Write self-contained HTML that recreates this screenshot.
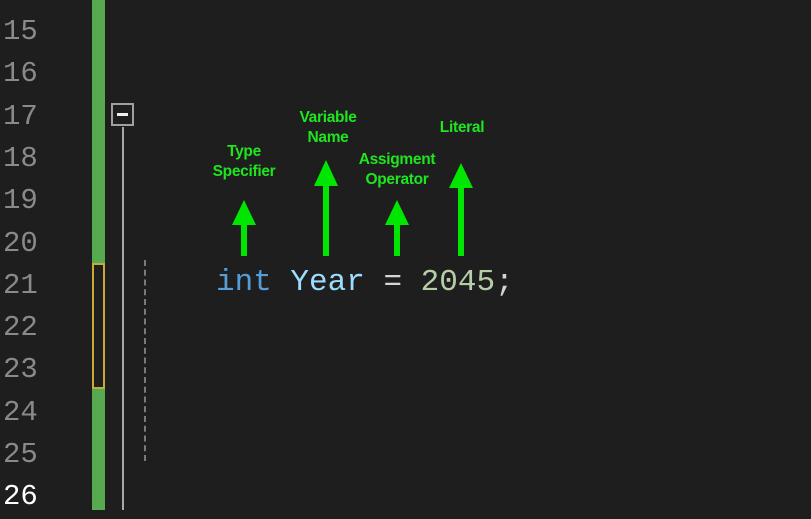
<!DOCTYPE html>
<html><head><style>
body{margin:0;width:811px;height:510px;background:#1e1e1e;overflow:hidden;position:relative;font-family:"Liberation Mono",monospace}
.ln{position:absolute;left:3px;font-size:29px;color:#8a8a8a;line-height:42.3px;height:42.3px}
.lbl{position:absolute;font-family:"Liberation Sans",sans-serif;font-weight:bold;font-size:15.5px;color:#1ee61e;text-align:center;line-height:20px;width:120px;margin-left:-60px;letter-spacing:-0.3px}
</style></head><body>
<div id="gutter"></div>
<div style="position:absolute;left:92px;top:0;width:13px;height:510px;background:#57ab4e"></div>
<div style="position:absolute;left:92px;top:263px;width:9px;height:122px;border:2px solid #c9a93a;background:#1e1e1e"></div>
<div style="position:absolute;left:111px;top:103px;width:19px;height:19px;border:2px solid #a0a0a0"><div style="position:absolute;left:4px;top:8px;width:11px;height:3px;background:#eee"></div></div>
<div style="position:absolute;left:122px;top:127px;width:2px;height:383px;background:#a8a8a8"></div>
<div style="position:absolute;left:144px;top:260px;width:0;height:201px;border-left:2px dashed #7a7a7a"></div>
<div style="position:absolute;left:216px;top:263px;font-size:31px;line-height:40px;white-space:pre"><span style="color:#569cd6">int</span> <span style="color:#9cdcfe">Year</span> <span style="color:#d4d4d4">=</span> <span style="color:#b5cea8">2045</span><span style="color:#d4d4d4">;</span></div>
<svg width="811" height="510" style="position:absolute;left:0;top:0">
<g fill="#00e600">
<polygon points="232,225 256,225 244,200"/><rect x="241" y="224" width="6" height="32"/>
<polygon points="314,186 338,186 326,160"/><rect x="323" y="185" width="6" height="71"/>
<polygon points="385,225 409,225 397,200"/><rect x="394" y="224" width="6" height="32"/>
<polygon points="449,188 473,188 461,163"/><rect x="458" y="187" width="6" height="69"/>
</g></svg>
<div class="lbl" style="left:244px;top:142px">Type<br>Specifier</div>
<div class="lbl" style="left:328px;top:108px">Variable<br>Name</div>
<div class="lbl" style="left:397px;top:150px">Assigment<br>Operator</div>
<div class="lbl" style="left:462px;top:118px">Literal</div>
<script>
const lines=[15,16,17,18,19,20,21,22,23,24,25,26];
const g=document.getElementById('gutter');
lines.forEach((n,i)=>{const d=document.createElement('div');d.className='ln';


d.style.top=(11+i*42.3)+'px';d.textContent=n;if(n===26)d.style.color='#fff';g.appendChild(d);});
</script>
</body></html>
